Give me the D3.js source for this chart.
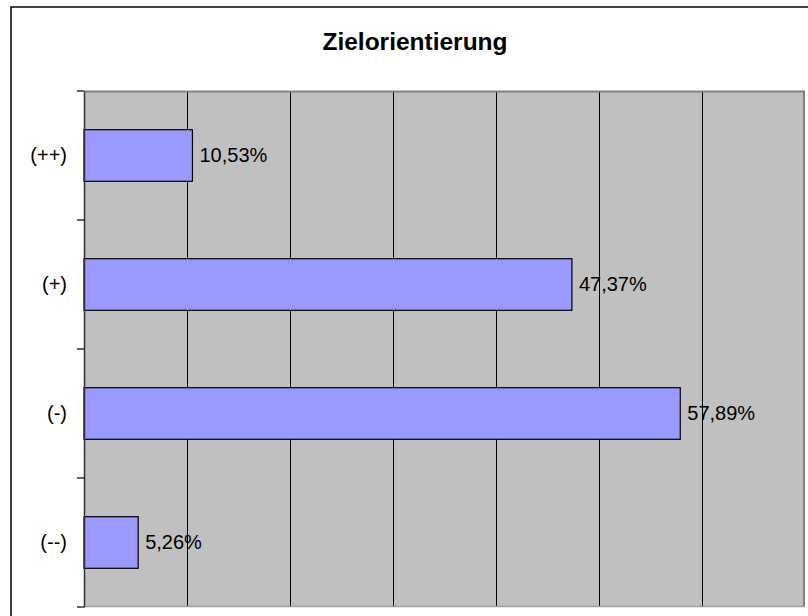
<!DOCTYPE html>
<html>
<head>
<meta charset="utf-8">
<script src="https://cdn.jsdelivr.net/npm/d3@7/dist/d3.min.js"></script>
<style>
html,body{margin:0;padding:0;background:#fff;}
svg{display:block;font-family:"Liberation Sans",Arial,sans-serif;}
</style>
</head>
<body>
<svg id="chart" width="808" height="616"></svg>
<script>
const title = "Zielorientierung";
const categories = ["(++)", "(+)", "(-)", "(--)"];
const values = [10.53, 47.37, 57.89, 5.26];
const valueLabels = ["10,53%", "47,37%", "57,89%", "5,26%"];
const xTicks = [0, 10, 20, 30, 40, 50, 60, 70];

const svg = d3.select("#chart");
const W = 808, H = 616;
const plot = {left: 84, top: 91, right: 805, bottom: 607};

// outer chart border
svg.append("rect").attr("x", 11).attr("y", 7).attr("width", W + 10).attr("height", H + 10)
  .attr("fill", "#fff").attr("stroke", "#000").attr("stroke-width", 1.5);

const x = d3.scaleLinear().domain([0, 70]).range([plot.left, plot.right]);
const yBand = d3.scaleBand().domain(categories).range([plot.top, plot.bottom]).padding(0);

// plot background
svg.append("rect").attr("x", plot.left).attr("y", plot.top)
  .attr("width", plot.right - plot.left).attr("height", plot.bottom - plot.top)
  .attr("fill", "#C0C0C0");

// vertical gridlines
svg.append("g").selectAll("line").data(xTicks.slice(1, -1)).join("line")
  .attr("x1", d => Math.round(x(d)) + 0.5).attr("x2", d => Math.round(x(d)) + 0.5)
  .attr("y1", plot.top).attr("y2", plot.bottom)
  .attr("stroke", "#000").attr("stroke-width", 1);

// plot frame (top, right) grey
svg.append("line").attr("x1", plot.left).attr("x2", plot.right).attr("y1", plot.top + 0.5).attr("y2", plot.top + 0.5)
  .attr("stroke", "#808080").attr("stroke-width", 2);
svg.append("line").attr("x1", plot.right - 1).attr("x2", plot.right - 1).attr("y1", plot.top).attr("y2", plot.bottom)
  .attr("stroke", "#808080").attr("stroke-width", 2);

// bars
const barH = yBand.bandwidth() * 0.4;
svg.append("g").selectAll("rect").data(values).join("rect")
  .attr("x", x(0))
  .attr("y", (d, i) => yBand(categories[i]) + (yBand.bandwidth() - barH) / 2)
  .attr("width", d => x(d) - x(0))
  .attr("height", barH)
  .attr("fill", "#9999FF").attr("stroke", "#000").attr("stroke-width", 1.2);

// value labels
svg.append("g").selectAll("text").data(values).join("text")
  .attr("x", d => x(d) + 7)
  .attr("y", (d, i) => yBand(categories[i]) + yBand.bandwidth() / 2)
  .attr("dy", "0.3em")
  .attr("font-size", 20).attr("fill", "#000")
  .text((d, i) => valueLabels[i]);

// x axis line (bottom)
svg.append("line").attr("x1", plot.left).attr("x2", plot.right).attr("y1", plot.bottom - 0.5).attr("y2", plot.bottom - 0.5)
  .attr("stroke", "#A0A0A0").attr("stroke-width", 1.5);

// y axis
const yAxis = d3.axisLeft(yBand).tickSize(0).tickPadding(17);
const gy = svg.append("g").attr("transform", `translate(${plot.left},0)`).call(yAxis);
gy.select(".domain").attr("stroke", "#333").attr("stroke-width", 1.5);
gy.selectAll("text").attr("font-size", 20).attr("fill", "#000").attr("dy", "0.3em")
  .attr("font-family", "Liberation Sans, Arial, sans-serif");

// y boundary ticks
const bounds = categories.map(c => yBand(c)).concat([plot.bottom]);
svg.append("g").selectAll("line").data(bounds).join("line")
  .attr("x1", plot.left - 7).attr("x2", plot.left)
  .attr("y1", d => d).attr("y2", d => d)
  .attr("stroke", "#000").attr("stroke-width", 1.2);

// title
svg.append("text").attr("x", 415).attr("y", 50).attr("text-anchor", "middle")
  .attr("font-size", 24.5).attr("font-weight", "bold").attr("fill", "#000").text(title);
</script>
</body>
</html>
